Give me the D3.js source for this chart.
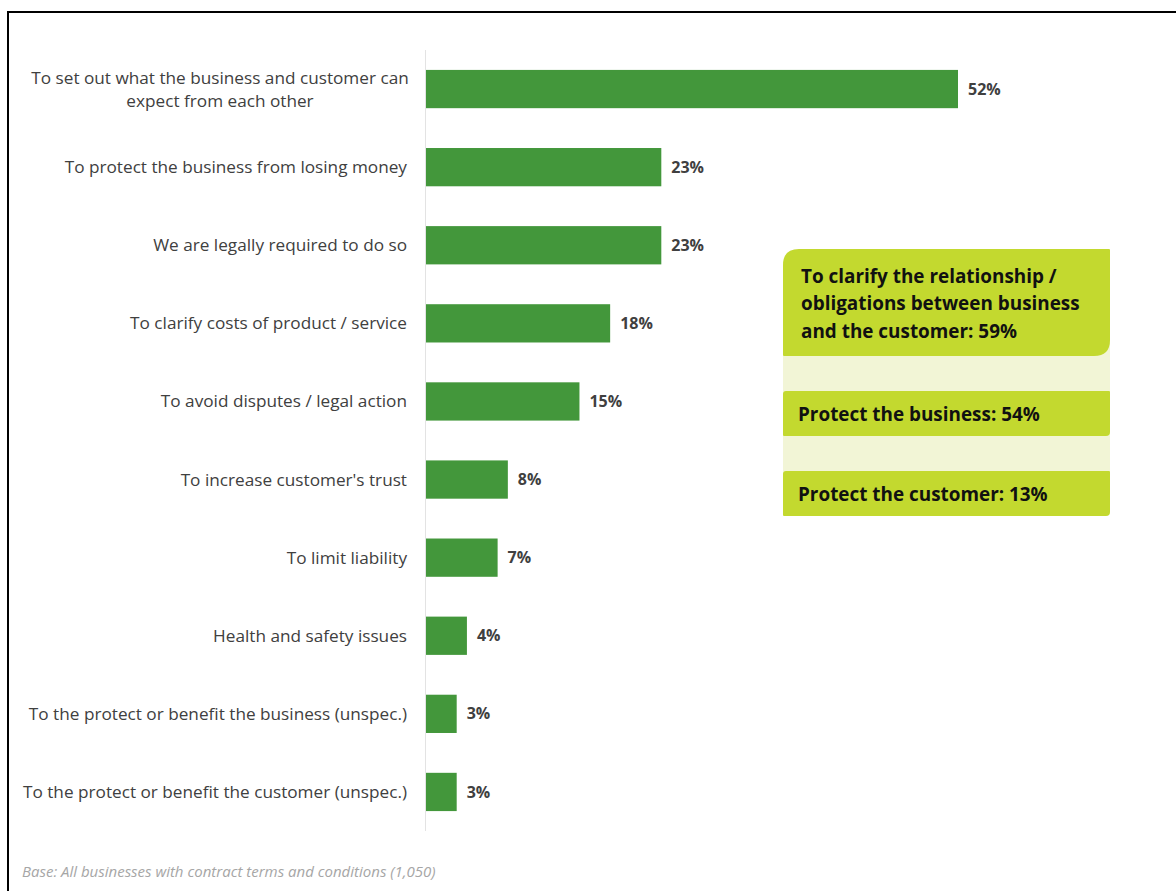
<!DOCTYPE html>
<html>
<head>
<meta charset="utf-8">
<script src="https://cdn.jsdelivr.net/npm/d3@7"></script>
<style>
  html, body { margin: 0; padding: 0; background: #fff; }
  svg { display: block; }
</style>
</head>
<body>
<script>
// Reasons for having contract terms and conditions
const categories = [
  ["To set out what the business and customer can", "expect from each other"],
  ["To protect the business from losing money"],
  ["We are legally required to do so"],
  ["To clarify costs of product / service"],
  ["To avoid disputes / legal action"],
  ["To increase customer's trust"],
  ["To limit liability"],
  ["Health and safety issues"],
  ["To the protect or benefit the business (unspec.)"],
  ["To the protect or benefit the customer (unspec.)"]
];
const values = [52, 23, 23, 18, 15, 8, 7, 4, 3, 3];

// Summary groupings shown in the side panel
const summaryLines = [
  ["To clarify the relationship /", "obligations between business", "and the customer: 59%"],
  ["Protect the business: 54%"],
  ["Protect the customer: 13%"]
];
const footnote = "Base: All businesses with contract terms and conditions (1,050)";

const W = 1176, H = 891;
const FONT = "'Open Sans', Lato, sans-serif";
const svg = d3.select("body").append("svg").attr("width", W).attr("height", H);

// frame
svg.append("rect")
  .attr("x", 8).attr("y", 12).attr("width", W + 20).attr("height", H + 20)
  .attr("fill", "none").attr("stroke", "#000").attr("stroke-width", 2);

const x0 = 426;
const x = d3.scaleLinear().domain([0, 52]).range([x0, 958]);
const y = d3.scaleBand().domain(d3.range(categories.length)).range([50, 831]).paddingInner(0.51).paddingOuter(0.255);

// baseline axis
svg.append("line")
  .attr("x1", x0 - 0.5).attr("x2", x0 - 0.5).attr("y1", 50).attr("y2", 831)
  .attr("stroke", "#e3e3e3").attr("stroke-width", 1);

const g = svg.append("g");
g.selectAll("rect.bar").data(values).join("rect")
  .attr("class", "bar")
  .attr("x", x(0))
  .attr("y", (d, i) => y(i))
  .attr("width", d => x(d) - x(0))
  .attr("height", y.bandwidth())
  .attr("fill", "#43973b");

g.selectAll("text.val").data(values).join("text")
  .attr("class", "val")
  .attr("x", d => x(d) + 10)
  .attr("y", (d, i) => y(i) + y.bandwidth() / 2)
  .attr("dy", "0.35em")
  .attr("font-family", FONT).attr("font-weight", "bold").attr("font-size", 16)
  .attr("fill", "#404040")
  .text(d => d + "%");

// category labels, right aligned, centred on bars
categories.forEach((lines, i) => {
  const cy = y(i) + y.bandwidth() / 2;
  const lh = 23;
  const t = svg.append("text")
    .attr("font-family", FONT).attr("font-size", 17.2).attr("fill", "#404040")
    .attr("text-anchor", lines.length > 1 ? "middle" : "end");
  lines.forEach((ln, k) => {
    t.append("tspan")
      .attr("x", lines.length > 1 ? 220 : 407)
      .attr("y", cy + (k - (lines.length - 1) / 2) * lh)
      .attr("dy", "0.35em")
      .text(ln);
  });
});

// side panel
const px = 783, pw = 327;
svg.append("rect").attr("x", px).attr("y", 340).attr("width", pw).attr("height", 150).attr("fill", "#f2f5d6");

function roundedBox(x1, y1, w, h, rTL, rBR, rS) {
  const x2 = x1 + w, y2 = y1 + h;
  return `M${x1 + rTL},${y1} H${x2 - rS} Q${x2},${y1} ${x2},${y1 + rS} V${y2 - rBR} Q${x2},${y2} ${x2 - rBR},${y2} H${x1 + rS} Q${x1},${y2} ${x1},${y2 - rS} V${y1 + rTL} Q${x1},${y1} ${x1 + rTL},${y1} Z`;
}
const boxes = [
  { y: 249, h: 107, rTL: 16, rBR: 16, tx: 801, ty: 276, lh: 27.5 },
  { y: 391, h: 45, rTL: 3, rBR: 4, tx: 798, ty: 414, lh: 27 },
  { y: 471, h: 45, rTL: 3, rBR: 4, tx: 798, ty: 494, lh: 27 }
];
boxes.forEach((b, i) => {
  svg.append("path").attr("d", roundedBox(px, b.y, pw, b.h, b.rTL, b.rBR, 1)).attr("fill", "#c3d92f");
  const t = svg.append("text")
    .attr("font-family", FONT).attr("font-weight", "bold").attr("font-size", 18.9).attr("fill", "#111");
  summaryLines[i].forEach((ln, k) => {
    t.append("tspan").attr("x", b.tx).attr("y", b.ty + k * b.lh).attr("dy", "0.35em").text(ln);
  });
});

svg.append("text")
  .attr("x", 22).attr("y", 877)
  .attr("font-family", FONT).attr("font-style", "italic").attr("font-size", 15)
  .attr("fill", "#a6a6a6")
  .text(footnote);
</script>
</body>
</html>
